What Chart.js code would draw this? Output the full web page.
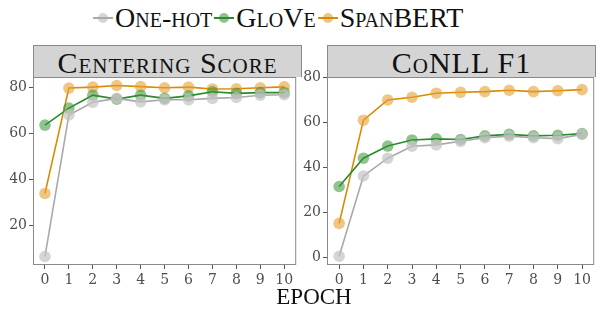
<!DOCTYPE html>
<html>
<head>
<meta charset="utf-8">
<script src="https://cdn.jsdelivr.net/npm/chart.js@4.4.1/dist/chart.umd.min.js"></script>
<style>
  body { margin: 0; background: #fff; }
  #wrap { position: relative; width: 600px; height: 312px; font-family: "Liberation Serif", serif; }
  .box { position: absolute; }
  .strip {
    position: absolute; top: 45px; height: 31px; background: #d4d4d4;
    border: 1px solid #8a8a8a; border-bottom: none;
    text-align: center; font-size: 30px; line-height: 33px; font-variant: small-caps;
    letter-spacing: 1px; color: #111;
  }
  #legend {
    position: absolute; top: 0; left: 93px; height: 36px;
    display: flex; align-items: center; white-space: nowrap;
    font-size: 28px; font-variant: small-caps; color: #111;
  }
  .item { display: flex; align-items: center; margin-right: 2px; }
  .sym { position: relative; width: 20px; height: 12px; margin-right: 2px; }
  .sym .ln { position: absolute; left: 0; top: 5px; width: 20px; height: 2px; }
  .sym .pt { position: absolute; left: 5px; top: 1px; width: 10px; height: 10px; border-radius: 50%; }
  #xtitle { position: absolute; top: 284px; left: 33px; width: 562px; text-align: center; font-size: 23px; color: #111; }
</style>
</head>
<body>
<div id="wrap">
  <div id="legend"></div>
  <div class="strip" style="left:33px;width:267px;">Centering Score</div>
  <div class="strip" style="left:327px;width:267px;">CoNLL F1</div>
  <div class="box" style="left:0;top:67px;width:302px;height:235px;"><canvas id="centering"></canvas></div>
  <div class="box" style="left:300px;top:67px;width:300px;height:235px;"><canvas id="conll"></canvas></div>
  <div id="xtitle">EPOCH</div>
</div>
<script>
// Datos
const epochs = ['0', '1', '2', '3', '4', '5', '6', '7', '8', '9', '10'];
const seriesNames = ['One-hot', 'GloVe', 'SpanBERT'];

const centeringOneHot = [6.5, 68, 73.5, 75.2, 73.7, 74.6, 74.6, 75.2, 75.6, 76.6, 76.8];
const centeringGlove = [63.6, 71, 76.6, 74.9, 76.6, 75.2, 76.3, 78.1, 77.4, 77.7, 77.7];
const centeringSpan = [33.9, 79.7, 80.1, 80.8, 80.3, 79.8, 80.1, 79.3, 79.4, 79.8, 80.2];

const conllOneHot = [0.6, 36.3, 44.2, 49.5, 50.1, 51.7, 53.3, 54, 53.3, 52.9, 54.8];
const conllGlove = [31.6, 44.2, 49.6, 52.3, 52.8, 52.5, 54.1, 54.8, 54.1, 54.4, 55.1];
const conllSpan = [15.2, 61.1, 70.1, 71.3, 73.1, 73.5, 73.8, 74.4, 73.8, 74.2, 74.7];

const centeringTicks = [20, 40, 60, 80];
const conllTicks = [0, 20, 40, 60, 80];

const lineColors = ['#a9a9a9', '#2b8a2b', '#d98a00'];
const pointColors = ['rgba(195,195,195,0.7)', 'rgba(55,145,55,0.55)', 'rgba(228,160,50,0.6)'];

Chart.defaults.font.family = "'DejaVu Serif', serif";
const tickFont = { family: "'DejaVu Serif', serif", size: 14 };

// Leyenda en HTML (versalitas)
const legend = document.getElementById('legend');
seriesNames.forEach((name, i) => {
    const item = document.createElement('div');
    item.className = 'item';
    item.innerHTML = '<div class="sym"><div class="pt" style="background:' + pointColors[i] + '"></div>' +
        '<div class="ln" style="background:' + lineColors[i] + '"></div></div><span>' + name + '</span>';
    legend.appendChild(item);
});

const borderBox = {
    id: 'borderBox',
    afterDraw(chart) {
        const a = chart.chartArea;
        const ctx = chart.ctx;
        ctx.save();
        ctx.strokeStyle = '#8a8a8a';
        ctx.lineWidth = 1;
        ctx.strokeRect(a.left + 0.5, a.top + 0.5, a.right - a.left - 1, a.bottom - a.top - 1);
        ctx.restore();
    }
};

function makeChart(id, values, yMin, yMax, yTicks, axisWidth, padRight) {
    const ctx = document.getElementById(id).getContext('2d');
    return new Chart(ctx, {
        type: 'line',
        data: {
            labels: epochs,
            datasets: values.map((v, i) => ({
                label: seriesNames[i],
                data: v,
                borderColor: lineColors[i],
                borderWidth: 1.6,
                pointRadius: 5.8,
                pointBorderWidth: 0,
                pointBackgroundColor: pointColors[i],
                tension: 0,
                fill: false,
            }))
        },
        options: {
            responsive: true,
            maintainAspectRatio: false,
            animation: false,
            layout: { padding: { left: 0, right: padRight, top: 10, bottom: 0 } },
            plugins: { legend: { display: false }, tooltip: { enabled: false } },
            scales: {
                x: {
                    type: 'category',
                    offset: true,
                    grid: { offset: false, drawOnChartArea: false, drawTicks: true, tickLength: 4, color: '#555' },
                    border: { display: false },
                    ticks: { color: '#4d4d4d', font: tickFont, padding: 3, maxRotation: 0, autoSkip: false },
                    afterFit: (scale) => { scale.height = 37; }
                },
                y: {
                    min: yMin,
                    max: yMax,
                    grid: { drawOnChartArea: false, drawTicks: true, tickLength: 4, color: '#555' },
                    border: { display: false },
                    ticks: { color: '#4d4d4d', font: tickFont, padding: 2 },
                    afterBuildTicks: (scale) => { scale.ticks = yTicks.map(v => ({ value: v })); },
                    afterFit: (scale) => {
                        scale.width = axisWidth;
                        scale.paddingTop = 0;
                        scale.paddingBottom = 0;
                    }
                }
            }
        },
        plugins: [borderBox]
    });
}

makeChart('centering', [centeringOneHot, centeringGlove, centeringSpan], 2.8, 84.5, centeringTicks, 33, 1);
makeChart('conll', [conllOneHot, conllGlove, conllSpan], -3.3, 80.3, conllTicks, 27, 5);
</script>
</body>
</html>
